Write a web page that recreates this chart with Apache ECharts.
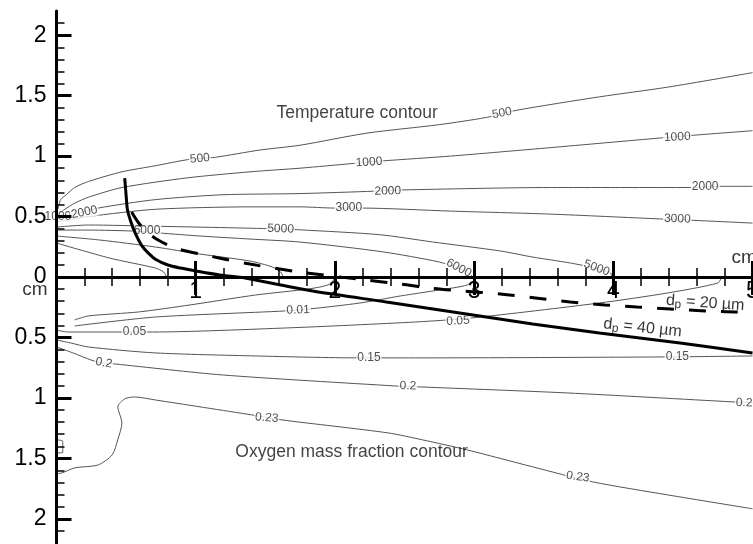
<!DOCTYPE html>
<html>
<head>
<meta charset="utf-8">
<script src="https://cdn.jsdelivr.net/npm/echarts@6/dist/echarts.min.js"></script>
<style>
  html, body { margin: 0; padding: 0; background: #fff; }
  #chart { width: 753px; height: 544px; }
</style>
</head>
<body>
<div id="chart"></div>
<script>
// Axial distance x (cm) and radial distance r (cm); upper half: temperature (K),
// lower half: oxygen mass fraction (r given negative, drawn below the axis).

// Tick values on the radial axes (distance from the axis, cm)
const radialMajorTicks = [0, 0.5, 1, 1.5, 2];
const radialMinorTicks = [0.1, 0.2, 0.3, 0.4, 0.6, 0.7, 0.8, 0.9, 1.1, 1.2, 1.3, 1.4, 1.6, 1.7, 1.8, 1.9, 2.1];
const upperRadialLabels = [0, 0.5, 1, 1.5, 2];
const lowerRadialLabels = [0.5, 1, 1.5, 2];

// Temperature isotherms [x, r]
const T500 = [[0.01,0.56],[0.03,0.64],[0.07,0.68],[0.13,0.74],[0.23,0.79],[0.47,0.87],[0.71,0.92],[0.94,0.97],[1.14,0.99],[1.46,1.05],[1.75,1.09],[2.23,1.19],[2.75,1.26],[3.09,1.32],[3.31,1.38],[3.90,1.49],[4.39,1.57],[5.0,1.69]];
const T1000 = [[0.01,0.52],[0.06,0.56],[0.13,0.61],[0.23,0.66],[0.47,0.74],[0.94,0.82],[1.39,0.87],[1.75,0.90],[2.14,0.94],[2.34,0.96],[2.83,1.0],[3.55,1.07],[4.34,1.15],[4.55,1.17],[5.0,1.21]];
const T2000 = [[0,0.48],[0.10,0.51],[0.30,0.57],[0.71,0.64],[1.19,0.68],[1.75,0.69],[2.29,0.71],[2.48,0.72],[3.55,0.74],[4.55,0.74],[4.75,0.75],[5.0,0.75]];
const T3000 = [[0,0.455],[0.23,0.50],[0.71,0.56],[1.39,0.58],[1.75,0.58],[2.0,0.57],[2.20,0.57],[2.83,0.545],[3.55,0.52],[4.34,0.48],[4.55,0.47],[5.0,0.446]];
const T5000 = [[0,0.413],[0.23,0.43],[0.71,0.42],[1.52,0.40],[1.75,0.39],[2.32,0.35],[2.70,0.29],[3.19,0.215],[3.42,0.165],[3.69,0.116],[3.87,0.074],[3.98,0.033],[3.99,0]];
const T6000 = [[0,0.388],[0.23,0.388],[0.55,0.38],[0.74,0.364],[1.03,0.339],[1.39,0.314],[1.75,0.289],[2.35,0.207],[2.75,0.124],[2.88,0.074],[2.97,0.025],[2.99,0]];
const Tinner1 = [[0,0.339],[0.31,0.306],[0.71,0.248],[1.03,0.19],[1.39,0.132],[1.55,0.083],[1.61,0.041],[1.63,0]];
const Tinner2 = [[0,0.281],[0.38,0.157],[0.71,0.074],[0.77,0.041],[0.79,0]];

// Oxygen mass fraction iso-lines [x, -r]
const Oinner = [[0.13,-0.355],[0.23,-0.322],[0.59,-0.289],[0.96,-0.231],[1.43,-0.149],[1.81,-0.099],[1.95,-0.066],[1.99,-0.025],[1.995,0]];
const O001 = [[0.13,-0.405],[0.71,-0.331],[1.64,-0.281],[1.82,-0.264],[2.18,-0.215],[2.47,-0.157],[2.75,-0.107],[2.95,-0.066],[3.03,0]];
const O005 = [[0,-0.438],[0.08,-0.455],[0.69,-0.455],[1.66,-0.421],[2.58,-0.372],[2.98,-0.339],[3.90,-0.215],[4.39,-0.132],[4.75,-0.05],[4.78,0]];
const O015 = [[0,-0.521],[0.10,-0.545],[0.23,-0.579],[0.71,-0.628],[1.43,-0.653],[2.17,-0.669],[2.58,-0.669],[4.37,-0.661],[5.0,-0.653]];
const O020 = [[0,-0.579],[0.10,-0.62],[0.29,-0.702],[0.42,-0.719],[1.19,-0.81],[2.43,-0.901],[2.61,-0.909],[3.67,-0.959],[4.86,-1.033],[5.0,-1.041]];
const O023 = [[0,-1.628],[0.04,-1.62],[0.13,-1.579],[0.30,-1.554],[0.40,-1.471],[0.44,-1.347],[0.47,-1.207],[0.44,-1.074],[0.49,-1.008],[0.56,-0.992],[0.71,-1.017],[1.40,-1.14],[1.62,-1.182],[2.38,-1.289],[2.63,-1.347],[2.95,-1.43],[3.42,-1.57],[3.85,-1.694],[4.39,-1.802],[5.0,-1.917]];
const O023b = [[0.01,-1.347],[0.045,-1.36],[0.045,-1.45],[0.01,-1.455]];

// Droplet trajectories
const traj40 = [[0.49,0.818],[0.50,0.678],[0.51,0.554],[0.535,0.455],[0.565,0.364],[0.61,0.264],[0.66,0.198],[0.72,0.14],[0.80,0.099],[0.89,0.074],[1.0,0.05],[1.17,0.017],[1.355,-0.008],[1.61,-0.066],[1.84,-0.116],[2.37,-0.207],[3.04,-0.322],[3.42,-0.388],[3.90,-0.463],[4.48,-0.545],[5.0,-0.628]];
const traj20 = [[0.54,0.537],[0.585,0.455],[0.65,0.372],[0.73,0.306],[0.85,0.24],[1.03,0.19],[1.39,0.107],[1.75,0.041],[2.22,-0.025],[2.47,-0.058],[2.68,-0.091],[2.92,-0.116],[3.19,-0.14],[3.44,-0.174],[3.69,-0.207],[3.94,-0.231],[4.17,-0.248],[4.41,-0.264],[4.66,-0.281],[4.88,-0.289],[5.0,-0.298]];

// Contour level labels [x, r, text]
const contourLabels = [
  [1.03,0.98,'500'],[3.20,1.355,'500'],
  [2.245,0.95,'1000'],[4.46,1.157,'1000'],[0.01,0.50,'1000'],
  [0.20,0.535,'2000'],[2.38,0.71,'2000'],[4.66,0.744,'2000'],
  [2.10,0.57,'3000'],[4.46,0.48,'3000'],
  [1.61,0.397,'5000'],[3.88,0.074,'5000'],
  [0.65,0.38,'6000'],[2.89,0.074,'6000'],
  [1.735,-0.273,'0.01'],
  [0.56,-0.455,'0.05'],[2.885,-0.364,'0.05'],
  [2.245,-0.669,'0.15'],[4.46,-0.661,'0.15'],
  [0.34,-0.711,'0.2'],[2.525,-0.901,'0.2'],[4.94,-1.041,'0.2'],
  [1.51,-1.165,'0.23'],[3.745,-1.653,'0.23']
];
const contourLabelAngles = [6,10, 4,3,0, 12,1,0, 0,-2, -2,-20, 0,-28, 2, 0,3, 0,0, -10,-2,-2, -5,-8];

// Annotation texts [x, r, text]
const notes = [
  [2.16,1.355,'Temperature contour'],
  [2.12,-1.446,'Oxygen mass fraction contour']
];
const axisUnits = [[-0.155,-0.107,'cm'],[4.85,0.157,'cm']];
const dropletLabels = [[4.66,-0.215,'d{s|p} = 20 µm'],[4.21,-0.421,'d{s|p} = 40 µm']];
const dropletAngles = [-4,-6];

const FONT = '"Liberation Sans", Arial, Helvetica, sans-serif';

const thinLines = [T500,T1000,T2000,T3000,T5000,T6000,Tinner1,Tinner2,Oinner,O001,O005,O015,O020,O023,O023b];

const series = [];
thinLines.forEach(function (d) {
  series.push({
    type: 'line', data: d, symbol: 'none', smooth: 0.25, z: 2, silent: true, clip: false,
    lineStyle: { color: '#555', width: 1 }
  });
});
series.push({
  type: 'line', data: traj40, symbol: 'none', smooth: 0.3, z: 5, silent: true, clip: false,
  lineStyle: { color: '#000', width: 3 }
});
series.push({
  type: 'line', data: traj20, symbol: 'none', smooth: 0.3, z: 5, silent: true, clip: false,
  lineStyle: { color: '#000', width: 3, type: [17, 15] }
});
series.push({
  type: 'scatter', symbolSize: 0, z: 3, silent: true, clip: false,
  data: contourLabels.map(function (c, i) {
    return { value: [c[0], c[1]], name: c[2], label: { rotate: contourLabelAngles[i] } };
  }),
  label: {
    show: true, position: 'inside', formatter: '{b}', color: '#222',
    fontFamily: FONT, fontSize: 12, backgroundColor: '#fff', padding: [0, 1]
  }
});
series.push({
  type: 'scatter', symbolSize: 0, z: 6, silent: true, clip: false,
  data: notes.map(function (c) { return { value: [c[0], c[1]], name: c[2] }; }),
  label: { show: true, position: 'inside', formatter: '{b}', color: '#111', fontFamily: FONT, fontSize: 17.5 }
});
series.push({
  type: 'scatter', symbolSize: 0, z: 6, silent: true, clip: false,
  data: [
    { value: [axisUnits[0][0], axisUnits[0][1]], name: axisUnits[0][2], label: { position: 'inside' } },
    { value: [axisUnits[1][0], axisUnits[1][1]], name: axisUnits[1][2], label: { position: 'right', distance: 0 } }
  ],
  label: { show: true, formatter: '{b}', color: '#000', fontFamily: FONT, fontSize: 19 }
});
series.push({
  type: 'scatter', symbolSize: 0, z: 6, silent: true, clip: false,
  data: dropletLabels.map(function (c, i) {
    return { value: [c[0], c[1]], name: c[2], label: { rotate: dropletAngles[i] } };
  }),
  label: {
    show: true, position: 'inside', formatter: '{b}', color: '#000', fontFamily: FONT, fontSize: 16,
    rich: { s: { fontFamily: FONT, fontSize: 12, padding: [7, 0, 0, 0], color: '#000' } }
  }
});

const axisBlack = { color: '#000', width: 3 };
const minorBlack = { color: '#000', width: 1.5 };

function radialAxis(gridIndex, inverse, labels, major) {
  return {
    type: 'value', gridIndex: gridIndex, position: 'left', min: 0, max: 2.2, inverse: inverse, z: 10,
    axisLine: { show: major, onZero: false, lineStyle: axisBlack },
    axisTick: { inside: true, length: major ? 15 : 8, customValues: major ? radialMajorTicks : radialMinorTicks,
      lineStyle: major ? axisBlack : minorBlack },
    splitLine: { show: false },
    axisLabel: major ? {
      customValues: labels, margin: 10, color: '#000', fontFamily: FONT, fontSize: 23
    } : { show: false }
  };
}

const chart = echarts.init(document.getElementById('chart'), null, { renderer: 'canvas' });
chart.setOption({
  backgroundColor: '#fff',
  animation: false,
  grid: [
    { left: 56.5, right: 0.5, top: 11, height: 266, containLabel: false, outerBoundsMode: 'none' },
    { left: 56.5, right: 0.5, top: 277, height: 266, containLabel: false, outerBoundsMode: 'none' }
  ],
  xAxis: [
    {
      type: 'value', gridIndex: 0, position: 'bottom', min: 0, max: 5, interval: 1, z: 10,
      axisLine: { onZero: false, lineStyle: axisBlack },
      axisTick: { inside: true, length: 16, lineStyle: axisBlack },
      minorTick: { show: true, splitNumber: 5, length: 9, lineStyle: minorBlack },
      splitLine: { show: false },
      axisLabel: {
        show: true, margin: 3, color: '#000', fontFamily: FONT, fontSize: 23, showMaxLabel: true,
        formatter: function (v) { return v === 0 ? '' : String(v); }
      }
    },
    {
      type: 'value', gridIndex: 1, position: 'top', min: 0, max: 5, interval: 1, z: 9,
      axisLine: { show: false, onZero: false },
      axisTick: { inside: true, length: 18, lineStyle: axisBlack },
      minorTick: { show: true, splitNumber: 5, length: 9, lineStyle: minorBlack },
      splitLine: { show: false },
      axisLabel: { show: false }
    }
  ],
  yAxis: [
    radialAxis(0, false, upperRadialLabels, true),
    radialAxis(0, false, null, false),
    radialAxis(1, true, lowerRadialLabels, true),
    radialAxis(1, true, null, false)
  ],
  series: series.map(function (s) { s.xAxisIndex = 0; s.yAxisIndex = 0; return s; })
});
</script>
</body>
</html>
